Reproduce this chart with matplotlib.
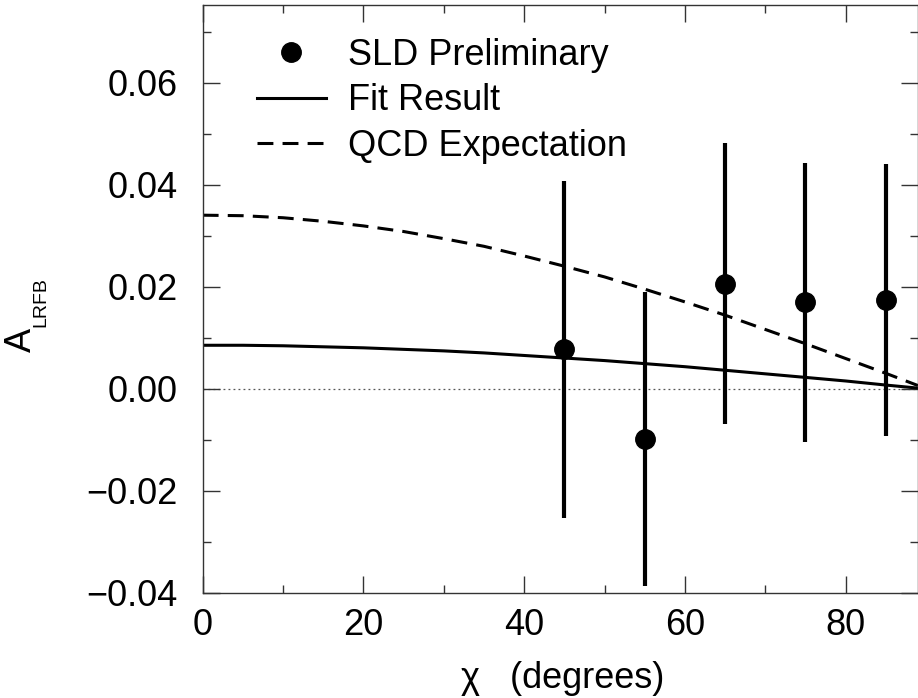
"""Left-right forward-backward asymmetry vs chi, SLD preliminary."""

import matplotlib

matplotlib.use("Agg")
import matplotlib.pyplot as plt
import numpy as np
from matplotlib.legend_handler import HandlerLine2D
from matplotlib.lines import Line2D
from matplotlib.ticker import MultipleLocator

# measured points (chi in degrees)
chi_points = [45, 55, 65, 75, 85]
a_points = [0.0077, -0.0098, 0.0206, 0.0169, 0.0174]
a_errors = [0.0331, 0.0288, 0.0276, 0.0273, 0.0267]

# curves
chi_curve = [0, 5, 10, 15, 20, 25, 30, 35, 40, 45, 50, 55, 60, 65, 70, 75, 80, 85, 89]
fit_curve = [0.0085, 0.0085, 0.0084, 0.0082, 0.0080, 0.0077, 0.0074, 0.0070, 0.0065,
             0.0060, 0.0055, 0.0049, 0.0043, 0.0036, 0.0029, 0.0022, 0.0015, 0.0007, 0.0001]
qcd_curve = [0.0340, 0.0339, 0.0335, 0.0328, 0.0319, 0.0308, 0.0294, 0.0279, 0.0260,
             0.0240, 0.0219, 0.0195, 0.0170, 0.0144, 0.0116, 0.0088, 0.0059, 0.0030, 0.0006]

x_ticks = [0, 20, 40, 60, 80]
y_ticks = [-0.04, -0.02, 0.00, 0.02, 0.04, 0.06]
y_tick_labels = ["\u22120.04", "\u22120.02", "0.00", "0.02", "0.04", "0.06"]
legend_labels = ["SLD Preliminary", "Fit Result", "QCD Expectation"]


class RightMarkerHandler(HandlerLine2D):
    """Put the single legend marker near the right end of the handle."""

    def get_xdata(self, legend, xdescent, ydescent, width, height, fontsize):
        xdata = np.array([-xdescent, -xdescent + width])
        return xdata, np.array([-xdescent + width - 0.15 * width])


plt.rcParams.update(
    {
        "font.family": ["Liberation Sans", "DejaVu Sans"],
        "font.size": 26,
    }
)

fig = plt.figure(figsize=(9.18, 6.98), dpi=100)
ax = fig.add_axes([0.2208, 0.1509, 0.7792, 0.8419])

ax.axhline(0.0, color="#555555", linewidth=0.9, linestyle=(0, (1.5, 2.5)), zorder=1)
ax.plot(chi_curve, fit_curve, color="black", linewidth=2.2, zorder=2)
ax.plot(chi_curve, qcd_curve, color="black", linewidth=2.2, dashes=(5.2, 3.0), zorder=2)
ax.errorbar(chi_points, a_points, yerr=a_errors, fmt="o", color="black",
            markersize=14, elinewidth=3.0, capsize=0, zorder=3)

ax.set_xlim(0, 89)
ax.set_ylim(-0.04, 0.0752)
ax.set_xticks(x_ticks)
ax.set_yticks(y_ticks)
ax.set_yticklabels(y_tick_labels)
ax.xaxis.set_minor_locator(MultipleLocator(10))
ax.yaxis.set_minor_locator(MultipleLocator(0.01))
ax.tick_params(which="both", direction="in", top=True, right=True, labelsize=26,
               color="#333333", width=1.0)
ax.tick_params(which="major", length=12)
ax.tick_params(which="minor", length=6)
ax.tick_params(axis="x", which="major", pad=11)
ax.tick_params(axis="y", which="major", pad=18)
for spine in ax.spines.values():
    spine.set_linewidth(1.0)
    spine.set_color("#333333")

# y label: large "A" with a small "LRFB" subscript
fig.text(21 / 918, 1 - 340 / 698, "A", rotation=90, ha="center", va="center", fontsize=26)
fig.text(41 / 918, 1 - 302 / 698, "LRFB", rotation=90, ha="center", va="center",
         fontsize=14)
fig.text(563 / 918, 1 - 679 / 698, "\u03c7   (degrees)", ha="center", va="center",
         fontsize=26)

h_data = Line2D([], [], linestyle="none", marker="o", color="black", markersize=14)
h_fit = Line2D([], [], color="black", linewidth=2.2)
h_qcd = Line2D([], [], color="black", linewidth=2.2, dashes=(5.2, 3.0))
ax.legend([h_data, h_fit, h_qcd], legend_labels,
          loc="upper left", bbox_to_anchor=(257 / 918, 1 - 38 / 698),
          bbox_transform=fig.transFigure, frameon=False, borderpad=0, borderaxespad=0,
          handlelength=1.9, handletextpad=0.62, labelspacing=0.29, fontsize=26,
          handler_map={h_data: RightMarkerHandler(numpoints=1)})

fig.savefig("out.png", dpi=100)
